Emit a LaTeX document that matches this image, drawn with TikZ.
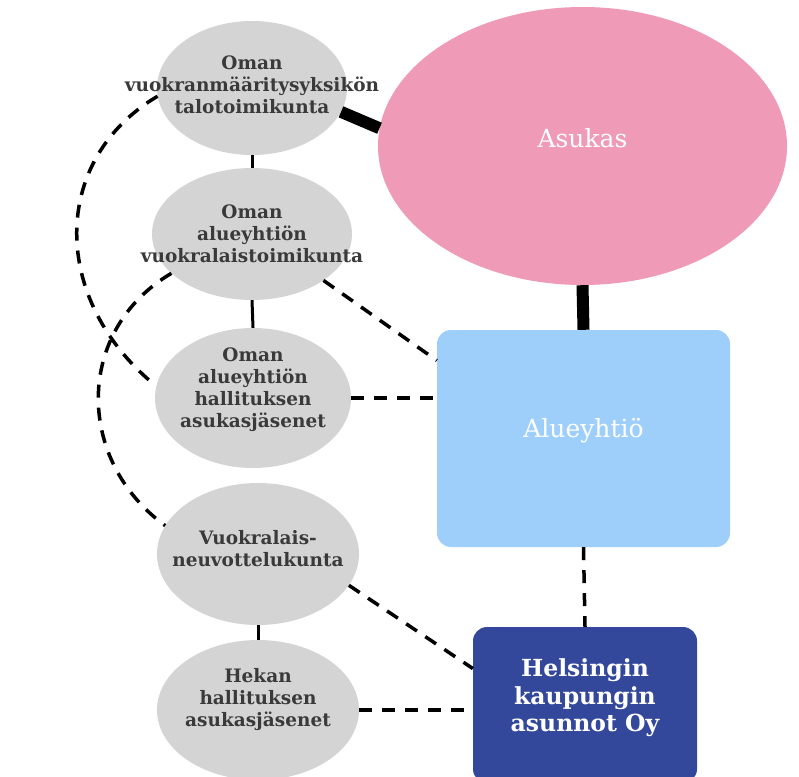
\documentclass[tikz,border=0pt]{standalone}
\usepackage{fontspec}
\setmainfont{DejaVu Serif}
\usetikzlibrary{shapes.geometric}
\definecolor{ovalgrey}{HTML}{D4D4D4}
\definecolor{asukaspink}{HTML}{EF9AB6}
\definecolor{aluesky}{HTML}{9DCFFA}
\definecolor{hekanavy}{HTML}{33489A}
\definecolor{inktext}{HTML}{3A3A3A}

\begin{document}
\begin{tikzpicture}[x=1pt, y=-1pt,
    greyoval/.style={ellipse, fill=ovalgrey, inner sep=0pt},
    ovaltext/.style={text=inktext, align=center, font=\bfseries\fontsize{18.5}{22}\selectfont},
    boxtext/.style={text=white, align=center, font=\fontsize{25}{28}\selectfont},
    thickline/.style={line width=12pt},
    thinline/.style={line width=3pt},
    dashline/.style={line width=3.5pt, dash pattern=on 13pt off 10pt}]
  \fill[white] (0,0) rectangle (799,776);
  \useasboundingbox (0,0) rectangle (799,776);

  \node[greyoval, minimum width=190pt, minimum height=134pt,
    label={[ovaltext, yshift=3pt]center:Oman\\vuokranmääritysyksikön\\talotoimikunta}] (talo) at (252,88) {};
  \node[greyoval, minimum width=200pt, minimum height=132pt,
    label={[ovaltext]center:Oman\\alueyhtiön\\vuokralaistoimikunta}] (vuok) at (252,234) {};
  \node[greyoval, minimum width=196pt, minimum height=140pt,
    label={[ovaltext, yshift=8pt]center:Oman\\alueyhtiön\\hallituksen\\asukasjäsenet}] (hall) at (253,398) {};
  \node[greyoval, minimum width=202pt, minimum height=142pt,
    label={[ovaltext, yshift=5pt]center:Vuokralais-\\neuvottelukunta}] (neuv) at (258,554) {};
  \node[greyoval, minimum width=202pt, minimum height=140pt,
    label={[ovaltext, yshift=10pt]center:Hekan\\hallituksen\\asukasjäsenet}] (hekah) at (258,710) {};

  \node[ellipse, fill=asukaspink, inner sep=0pt, minimum width=409pt, minimum height=278pt,
    label={[boxtext, yshift=8pt]center:Asukas}] (asukas) at (582.5,146) {};
  \node[rectangle, rounded corners=14pt, fill=aluesky, minimum width=293pt, minimum height=217pt,
    label={[boxtext, yshift=8pt]center:Alueyhtiö}] (alue) at (583.5,438.5) {};
  \node[rectangle, rounded corners=14pt, fill=hekanavy, minimum width=224pt, minimum height=156pt,
    label={[boxtext, font=\bfseries\fontsize{23.5}{27.5}\selectfont, yshift=7pt]center:Helsingin\\kaupungin\\asunnot Oy}] (hekaoy) at (585,705) {};

  \draw[thickline] (talo.-15) -- (asukas.175);
  \draw[thickline] (asukas.south) -- (alue.north);

  \draw[thinline] (talo.south) -- (vuok.north);
  \draw[thinline] (vuok.south) -- (hall.north);
  \draw[thinline] (neuv.south) -- (hekah.north);

  \draw[dashline] (vuok.-33) -- (alue.152);
  \draw[dashline] (hall.east) -- (hall.east -| alue.west);
  \draw[dashline] (alue.south) -- (hekaoy.north);
  \draw[dashline] (neuv.-19) -- (hekaoy.162);
  \draw[dashline] (hekah.east) -- (hekah.east -| hekaoy.west);
  \draw[dashline] (talo.185) .. controls (50,160) and (50,300) .. (hall.173);
  \draw[dashline] (vuok.206) .. controls (75,330) and (75,460) .. (neuv.163);
\end{tikzpicture}
\end{document}
